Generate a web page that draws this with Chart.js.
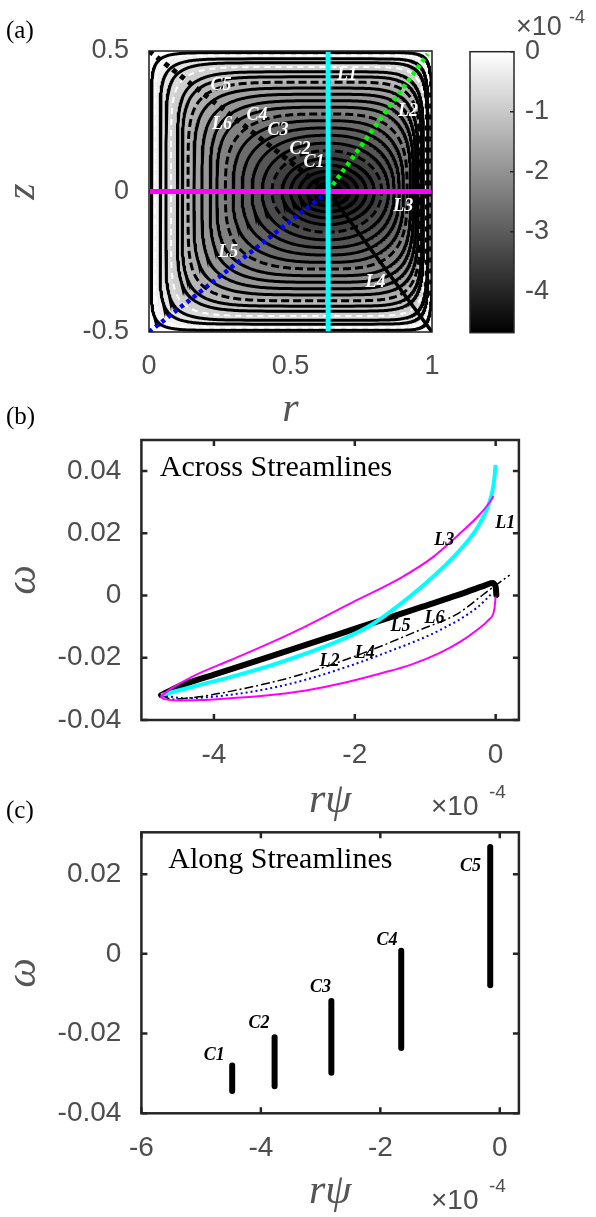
<!DOCTYPE html>
<html><head><meta charset="utf-8">
<script src="https://cdn.jsdelivr.net/npm/chart.js@4/dist/chart.umd.min.js"></script>
<style>
html,body{margin:0;padding:0;background:#fff;}
#wrap{position:relative;width:596px;height:1217px;overflow:hidden;background:#fff;}
canvas{position:absolute;}
.lbl{position:absolute;white-space:nowrap;line-height:1;}
.serif{font-family:"Liberation Serif","Times New Roman",serif;color:#000;}
.sans{font-family:"Liberation Sans",Arial,sans-serif;color:#4d4d4d;}
</style></head><body>
<div id="wrap">
<canvas id="ca" width="460" height="440" style="left:0;top:0"></canvas>
<canvas id="ccb" width="156" height="360" style="left:440px;top:0"></canvas>
<canvas id="cb" width="596" height="445" style="left:0;top:380px"></canvas>
<canvas id="cc" width="596" height="427" style="left:0;top:790px"></canvas>
<div class="lbl serif" style="left:6px;top:17px;font-size:25px;line-height:25px">(a)</div>
<div class="lbl serif" style="left:6px;top:403px;font-size:25px;line-height:25px">(b)</div>
<div class="lbl serif" style="left:6px;top:797px;font-size:25px;line-height:25px">(c)</div>
<div class="lbl sans" style="left:516px;top:13px;font-size:27px;line-height:27px">×10</div>
<div class="lbl sans" style="left:569px;top:8px;font-size:18px;line-height:18px">-4</div>
<div class="lbl sans" style="left:431px;top:792px;font-size:28px;line-height:28px">×10</div>
<div class="lbl sans" style="left:489px;top:782px;font-size:19px;line-height:19px">-4</div>
<div class="lbl sans" style="left:431px;top:1186px;font-size:28px;line-height:28px">×10</div>
<div class="lbl sans" style="left:489px;top:1176px;font-size:19px;line-height:19px">-4</div>
</div>
<script>
// ===================== DATA =====================
// Panel (a): stream-function contour levels (psi, units 1e-4) and their extents in (r, z)
const contourPsi    = [-0.05,-0.2,-0.4,-0.6,-0.8,-1.0,-1.2,-1.4,-1.6,-1.8,-2.0,-2.2,-2.4,-2.6,-2.8,-3.0,-3.2,-3.4,-3.6,-3.8,-4.0,-4.2,-4.45];
const contourRLeft  = [0.008,0.021,0.039,0.060,0.078,0.100,0.117,0.138,0.159,0.187,0.216,0.240,0.270,0.297,0.329,0.364,0.400,0.435,0.470,0.500,0.530,0.560,0.590];
const contourRRight = [0.996,0.991,0.986,0.981,0.976,0.970,0.964,0.958,0.951,0.943,0.934,0.924,0.912,0.899,0.884,0.866,0.846,0.822,0.796,0.768,0.738,0.708,0.678];
const contourZHalf  = [0.494,0.484,0.472,0.458,0.443,0.426,0.408,0.389,0.368,0.346,0.323,0.300,0.276,0.252,0.226,0.200,0.172,0.145,0.118,0.094,0.072,0.050,0.028];
const contourShape  = [14,12,10,8.5,7.5,6.5,6,5.4,4.9,4.4,4.0,3.6,3.2,2.9,2.6,2.4,2.2,2.1,2,2,2,2,2];
const contourStyle  = ['s','w','s','s','w','s','s','d','s','s','s','s','d','s','s','s','s','d','s','s','s','s','s'];
const vortexR = 0.63;
// cut lines in panel (a)
const L1r = [0.633, 0.633], L1z = [-0.5, 0.5];
const L2r = [0.633, 0.985], L2z = [0, 0.49];
const L3r = [0, 1],         L3z = [0, 0];
const L4r = [0.633, 1],     L4z = [0, -0.5];
const L5r = [0, 0.633],     L5z = [-0.5, 0];
const L6r = [0, 0.633],     L6z = [0.5, 0];
const aXTicks = [0, 0.5, 1],   aXTickLabels = ['0', '0.5', '1'];
const aYTicks = [-0.5, 0, 0.5], aYTickLabels = ['-0.5', '0', '0.5'];
const aLabelText = ['C1','C2','C3','C4','C5','L1','L2','L3','L4','L5','L6'];
const aLabelR = [0.583,0.534,0.456,0.382,0.254,0.70,0.915,0.898,0.80,0.28,0.258];
const aLabelZ = [0.103,0.149,0.216,0.27,0.379,0.415,0.284,-0.053,-0.323,-0.216,0.238];
// colorbar
const cbMin = -4.68, cbMax = 0;
const cbTicks = [-4,-3,-2,-1,0], cbTickLabels = ['-4','-3','-2','-1','0'];

// Panel (b): across streamlines, x = r*psi (1e-4), y = omega
const bL3LowX = [-4.76,-4.7,-4.5,-4.2,-3.77,-3.3,-2.69,-2.2,-1.61,-1.2,-0.8,-0.5,-0.26,-0.1,-0.02,0.0];
const bL3LowY = [-0.0325,-0.0333,-0.0337,-0.0336,-0.033,-0.0322,-0.0305,-0.0283,-0.0249,-0.0222,-0.0185,-0.0148,-0.011,-0.0078,-0.0046,-0.0003];
const bL3UpX  = [-4.76,-4.62,-4.32,-3.77,-3.2,-2.69,-2.0,-1.34,-0.9,-0.53,-0.25,-0.1,-0.03];
const bL3UpY  = [-0.0325,-0.0301,-0.0262,-0.0208,-0.0152,-0.0098,-0.0018,0.0058,0.0122,0.0195,0.0255,0.0295,0.032];
const bL1x = [-4.75,-4.3,-3.77,-3.2,-2.69,-2.2,-1.75,-1.34,-0.9,-0.5,-0.26,-0.1,-0.03,0.0];
const bL1y = [-0.032,-0.0293,-0.0262,-0.0225,-0.0186,-0.0143,-0.0092,-0.0025,0.0058,0.0148,0.0218,0.0292,0.0355,0.042];
const bThickX = [-4.75,-4.5,-4.0,-3.24,-2.32,-1.61,-1.07,-0.53,-0.15,-0.05,0.0,0.01];
const bThickY = [-0.032,-0.0292,-0.0254,-0.0199,-0.0131,-0.0078,-0.0038,0.0002,0.0033,0.004,0.0028,0.0002];
const bDashDotX = [-4.75,-4.59,-4.2,-3.77,-3.2,-2.69,-1.88,-1.07,-0.53,-0.15,0.2];
const bDashDotY = [-0.032,-0.0333,-0.0325,-0.0308,-0.028,-0.0249,-0.0185,-0.011,-0.0057,0.0008,0.0066];
const bDotX = [-4.75,-4.4,-3.77,-3.2,-2.69,-2.1,-1.61,-0.8,-0.26,-0.04];
const bDotY = [-0.032,-0.033,-0.0319,-0.0298,-0.027,-0.0228,-0.0188,-0.0112,-0.0038,0.001];
const bXTicks = [-4,-2,0], bXTickLabels = ['-4','-2','0'];
const bYTicks = [-0.04,-0.02,0,0.02,0.04], bYTickLabels = ['-0.04','-0.02','0','0.02','0.04'];
const bLabelText = ['L1','L2','L3','L4','L5','L6'];
const bLabelX = [0.135,-2.36,-0.73,-1.86,-1.35,-0.87];
const bLabelY = [0.0233,-0.0211,0.0178,-0.0186,-0.010,-0.0073];

// Panel (c): along streamlines
const cRpsi     = [-4.48,-3.77,-2.82,-1.65,-0.16];
const cOmegaMin = [-0.0344,-0.0332,-0.0298,-0.0236,-0.0079];
const cOmegaMax = [-0.028,-0.0209,-0.0118,0.0008,0.0268];
const cLabelText = ['C1','C2','C3','C4','C5'];
const cLabelX = [-4.78,-4.03,-3.0,-1.89,-0.49];
const cLabelY = [-0.0255,-0.0175,-0.0084,0.0033,0.022];
const cXTicks = [-6,-4,-2,0], cXTickLabels = ['-6','-4','-2','0'];
const cYTicks = [-0.04,-0.02,0,0.02], cYTickLabels = ['-0.04','-0.02','0','0.02'];

// ===================== HELPERS =====================
const SANS = '"Liberation Sans", Arial, sans-serif';
const SERIF = '"Liberation Serif", "Times New Roman", serif';
const TICK = '#4d4d4d';
const TITLE = '#555555';

function pts(xs, ys) { return xs.map((x, i) => ({x: x, y: ys[i]})); }
function grayFor(psi) {
  const v = Math.round(255 * Math.max(0, Math.min(1, 1 - (-psi) / (-cbMin))));
  return 'rgb(' + v + ',' + v + ',' + v + ')';
}
function contourOutline(i) {
  const out = [];
  const n = 360, e = 2 / contourShape[i];
  for (let k = 0; k <= n; k++) {
    const t = 2 * Math.PI * k / n;
    const c = Math.cos(t), s = Math.sin(t);
    const dx = Math.sign(c) * Math.pow(Math.abs(c), e);
    const dy = Math.sign(s) * Math.pow(Math.abs(s), e);
    const hw = c >= 0 ? contourRRight[i] - vortexR : vortexR - contourRLeft[i];
    out.push({x: vortexR + dx * hw, y: dy * contourZHalf[i]});
  }
  return out;
}

const framePlugin = {
  id: 'panelFrame',
  afterDatasetsDraw(chart, args, o) {
    const {ctx, chartArea: a} = chart;
    const xs = chart.scales.x, ys = chart.scales.y;
    ctx.save();
    ctx.strokeStyle = o.color || '#262626';
    ctx.lineWidth = o.lineWidth || 2;
    const L = o.tickLen || 0;
    if (L) {
      ctx.beginPath();
      (o.xTicks || []).forEach(v => {
        const p = xs.getPixelForValue(v);
        ctx.moveTo(p, a.bottom); ctx.lineTo(p, a.bottom - L);
        ctx.moveTo(p, a.top); ctx.lineTo(p, a.top + L);
      });
      (o.yTicks || []).forEach(v => {
        const p = ys.getPixelForValue(v);
        if (!o.rightOnly) { ctx.moveTo(a.left, p); ctx.lineTo(a.left + L, p); }
        ctx.moveTo(a.right, p); ctx.lineTo(a.right - L, p);
      });
      ctx.stroke();
    }
    ctx.strokeRect(a.left, a.top, a.right - a.left, a.bottom - a.top);
    ctx.restore();
  }
};
const textPlugin = {
  id: 'panelText',
  afterDatasetsDraw(chart, args, o) {
    const {ctx} = chart;
    const xs = chart.scales.x, ys = chart.scales.y;
    ctx.save();
    (o.items || []).forEach(it => {
      ctx.font = it.font; ctx.fillStyle = it.color;
      ctx.textAlign = it.align || 'center';
      ctx.textBaseline = it.baseline || 'middle';
      ctx.fillText(it.text, xs.getPixelForValue(it.x), ys.getPixelForValue(it.y));
    });
    ctx.restore();
  }
};

function axis(cfg) {
  const ax = {
    type: 'linear', min: cfg.min, max: cfg.max,
    grid: {display: false, drawTicks: false}, border: {display: false},
    afterBuildTicks: s => { s.ticks = cfg.ticks.map(v => ({value: v})); },
    afterFit: s => { if (cfg.height !== undefined) s.height = cfg.height; if (cfg.width !== undefined) s.width = cfg.width; },
    ticks: {autoSkip: false, maxRotation: 0, padding: cfg.pad, color: TICK,
            font: {family: SANS, size: cfg.fontSize || 28}, callback: (v, i) => cfg.labels[i]},
  };
  if (cfg.title) ax.title = {display: true, text: cfg.title, color: TITLE,
      font: {family: SERIF, size: 42, style: 'italic', lineHeight: 1}, padding: cfg.titlePad};
  if (cfg.position) ax.position = cfg.position;
  return ax;
}
const base = {responsive: false, animation: false, devicePixelRatio: 1,
  plugins: {legend: {display: false}, tooltip: {enabled: false}}};

// ===================== PANEL (a) =====================
const dsA = [];
const N = contourPsi.length;
for (let i = 0; i < N; i++) {
  const outline = contourOutline(i);
  const fillPsi = i < N - 1 ? (contourPsi[i] + contourPsi[i + 1]) / 2 : contourPsi[i] - 0.15;
  dsA.push({data: outline, showLine: true, pointRadius: 0, borderWidth: 0,
    borderColor: 'rgba(0,0,0,0)', backgroundColor: grayFor(fillPsi), fill: 'shape', order: 1000 - i});
  const st = contourStyle[i];
  dsA.push({data: outline, showLine: true, pointRadius: 0, fill: false, order: 500 - i,
    borderColor: st === 'w' ? '#ffffff' : '#000000',
    borderWidth: st === 'w' ? 2 : 3,
    borderDash: st === 'w' ? [6, 5] : (st === 'd' ? [8, 4] : [])});
}
dsA.push({data: pts(L6r, L6z), showLine: true, pointRadius: 0, borderColor: '#000', borderWidth: 5, borderDash: [5, 5], order: 10});
dsA.push({data: pts(L4r, L4z), showLine: true, pointRadius: 0, borderColor: '#000', borderWidth: 3.5, order: 9});
dsA.push({data: pts(L5r, L5z), showLine: true, pointRadius: 0, borderColor: '#0000ff', borderWidth: 4.5, borderDash: [4, 4], order: 8});
dsA.push({data: pts(L2r, L2z), showLine: true, pointRadius: 0, borderColor: '#00ff00', borderWidth: 4.5, borderDash: [4, 4], order: 7});
dsA.push({data: pts(L3r, L3z), showLine: true, pointRadius: 0, borderColor: '#ff00ff', borderWidth: 5, order: 6});
dsA.push({data: pts(L1r, L1z), showLine: true, pointRadius: 0, borderColor: '#00ffff', borderWidth: 5, order: 5});

new Chart(document.getElementById('ca'), {
  type: 'scatter',
  data: {datasets: dsA},
  options: Object.assign({}, base, {
    layout: {padding: {top: 51, right: 28, left: 0, bottom: 0}},
    scales: {
      x: axis({min: 0, max: 1, ticks: aXTicks, labels: aXTickLabels, pad: 18, height: 108, fontSize: 27,
               title: 'r', titlePad: {top: 0, bottom: 9}}),
      y: axis({min: -0.5, max: 0.5, ticks: aYTicks, labels: aYTickLabels, pad: 20, width: 149, fontSize: 27,
               title: 'z', titlePad: {top: 1.5, bottom: 0}})
    },
    plugins: Object.assign({}, base.plugins, {
      panelFrame: {color: '#1a1a1a', lineWidth: 1.5},
      panelText: {items: aLabelText.map((t, i) => ({text: t, x: aLabelR[i], y: aLabelZ[i],
        font: 'italic bold 18px ' + SERIF, color: '#ffffff'}))}
    })
  }),
  plugins: [framePlugin, textPlugin]
});

// ===================== COLORBAR =====================
new Chart(document.getElementById('ccb'), {
  type: 'bar',
  data: {labels: [''], datasets: [{data: [[cbMin, cbMax]], borderWidth: 0, barPercentage: 1, categoryPercentage: 1,
    backgroundColor: c => {
      const ch = c.chart; const ys = ch.scales.y;
      if (!ch.chartArea || !ys) return '#888';
      const g = ch.ctx.createLinearGradient(0, ys.getPixelForValue(cbMax), 0, ys.getPixelForValue(cbMin));
      g.addColorStop(0, grayFor(cbMax)); g.addColorStop(1, grayFor(cbMin));
      return g;
    }}]},
  options: Object.assign({}, base, {
    layout: {padding: {top: 51.7, left: 30, bottom: 27.3, right: 0}},
    scales: {
      x: {display: false},
      y: axis({min: cbMin, max: cbMax, ticks: cbTicks, labels: cbTickLabels, pad: 11, width: 82, fontSize: 27, position: 'right'})
    },
    plugins: Object.assign({}, base.plugins, {
      panelFrame: {color: '#262626', lineWidth: 1.5, tickLen: 4, yTicks: cbTicks, rightOnly: true}
    })
  }),
  plugins: [framePlugin]
});

// ===================== PANEL (b) =====================
new Chart(document.getElementById('cb'), {
  type: 'scatter',
  data: {datasets: [
    {data: pts(bDotX, bDotY), showLine: true, pointRadius: 0, borderColor: '#0000ff', borderWidth: 2, borderDash: [2, 3], cubicInterpolationMode: 'monotone', order: 6},
    {data: pts(bDashDotX, bDashDotY), showLine: true, pointRadius: 0, borderColor: '#000', borderWidth: 1.5, borderDash: [9, 3, 2, 3], cubicInterpolationMode: 'monotone', order: 5},
    {data: pts(bThickX, bThickY), showLine: true, pointRadius: 0, borderColor: '#000', borderWidth: 6, cubicInterpolationMode: 'monotone', borderCapStyle: 'round', order: 4},
    {data: pts(bL1x, bL1y), showLine: true, pointRadius: 0, borderColor: '#00ffff', borderWidth: 4, cubicInterpolationMode: 'monotone', order: 3},
    {data: pts(bL3LowX, bL3LowY), showLine: true, pointRadius: 0, borderColor: '#ff00ff', borderWidth: 2, cubicInterpolationMode: 'monotone', order: 2},
    {data: pts(bL3UpX, bL3UpY), showLine: true, pointRadius: 0, borderColor: '#ff00ff', borderWidth: 2, cubicInterpolationMode: 'monotone', order: 1}
  ]},
  options: Object.assign({}, base, {
    layout: {padding: {top: 60, right: 77.1, left: 0, bottom: 0}},
    scales: {
      x: axis({min: -5.03, max: 0.33, ticks: bXTicks, labels: bXTickLabels, pad: 18, height: 105,
               title: 'rψ', titlePad: {top: 0, bottom: 3}}),
      y: axis({min: -0.04, max: 0.05, ticks: bYTicks, labels: bYTickLabels, pad: 20, width: 141.4,
               title: 'ω', titlePad: {top: 3, bottom: 0}})
    },
    plugins: Object.assign({}, base.plugins, {
      panelFrame: {color: '#262626', lineWidth: 2.5, tickLen: 6, xTicks: bXTicks, yTicks: bYTicks},
      panelText: {items: [{text: 'Across Streamlines', x: -4.77, y: 0.0383, align: 'left', baseline: 'alphabetic',
                   font: '30px ' + SERIF, color: '#000'}].concat(
        bLabelText.map((t, i) => ({text: t, x: bLabelX[i], y: bLabelY[i], font: 'italic bold 18px ' + SERIF, color: '#000'})))}
    })
  }),
  plugins: [framePlugin, textPlugin]
});

// ===================== PANEL (c) =====================
new Chart(document.getElementById('cc'), {
  type: 'scatter',
  data: {datasets: cRpsi.map((x, i) => ({
    data: [{x: x, y: cOmegaMin[i]}, {x: x, y: cOmegaMax[i]}],
    showLine: true, pointRadius: 0, borderColor: '#000', borderWidth: 6, borderCapStyle: 'round'}))},
  options: Object.assign({}, base, {
    layout: {padding: {top: 42.3, right: 77.1, left: 0, bottom: 0}},
    scales: {
      x: axis({min: -6, max: 0.32, ticks: cXTicks, labels: cXTickLabels, pad: 18, height: 103.7,
               title: 'rψ', titlePad: {top: 0, bottom: 4}}),
      y: axis({min: -0.04, max: 0.0305, ticks: cYTicks, labels: cYTickLabels, pad: 20, width: 141.4,
               title: 'ω', titlePad: {top: 3, bottom: 0}})
    },
    plugins: Object.assign({}, base.plugins, {
      panelFrame: {color: '#262626', lineWidth: 2.5, tickLen: 6, xTicks: cXTicks, yTicks: cYTicks},
      panelText: {items: [{text: 'Along Streamlines', x: -5.55, y: 0.0215, align: 'left', baseline: 'alphabetic',
                   font: '30px ' + SERIF, color: '#000'}].concat(
        cLabelText.map((t, i) => ({text: t, x: cLabelX[i], y: cLabelY[i], font: 'italic bold 18px ' + SERIF, color: '#000'})))}
    })
  }),
  plugins: [framePlugin, textPlugin]
});
</script>
</body></html>
